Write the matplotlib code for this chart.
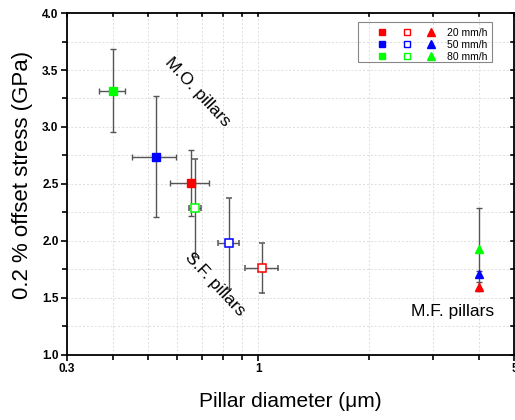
import matplotlib
matplotlib.use("Agg")
import matplotlib.pyplot as plt
from matplotlib.ticker import FixedLocator, NullFormatter, FixedFormatter
from matplotlib.legend_handler import HandlerTuple
from matplotlib.lines import Line2D
from matplotlib.patches import Rectangle

plt.rcParams['font.family'] = ['Liberation Sans', 'DejaVu Sans']

# Strain rates and their colours
rates = ['20 mm/h', '50 mm/h', '80 mm/h']
colors = ['#ff0000', '#0000ff', '#00ff00']

# M.O. pillars (filled squares)
mo_diam = [0.653, 0.524, 0.400]
mo_diam_err = [0.080, 0.072, 0.032]
mo_stress = [2.51, 2.74, 3.32]
mo_stress_err = [0.29, 0.53, 0.36]

# S.F. pillars (open squares)
sf_diam = [1.025, 0.829, 0.670]
sf_diam_err = [0.105, 0.055, 0.025]
sf_stress = [1.76, 1.98, 2.29]
sf_stress_err = [0.22, 0.40, 0.43]

# M.F. pillars (triangles)
mf_diam = [4.0, 4.0, 4.0]
mf_stress = [1.60, 1.71, 1.93]
mf_stress_err = [0.04, 0.03, 0.36]

x_ticks = [0.3, 1, 5]
x_tick_labels = ['0.3', '1', '5']
x_minor = [0.4, 0.5, 0.6, 0.7, 0.8, 0.9, 2, 3, 4]
y_ticks = [1.0, 1.5, 2.0, 2.5, 3.0, 3.5, 4.0]
y_minor = [1.25, 1.75, 2.25, 2.75, 3.25, 3.75]

fig = plt.figure(figsize=(5.15, 4.2), dpi=100)
ax = fig.add_axes([0.130, 0.155, 0.869, 0.814])

ecol = '#555555'
eb_kw = dict(ecolor=ecol, elinewidth=1.0, capsize=2.5, capthick=1.0, linestyle='none', zorder=3)

h_filled, h_open, h_tri = [], [], []
for i, c in enumerate(colors):
    ax.errorbar(mo_diam[i], mo_stress[i], xerr=mo_diam_err[i], yerr=mo_stress_err[i],
                marker='s', ms=5.2, mfc=c, mec=c, **eb_kw)
    ax.errorbar(sf_diam[i], sf_stress[i], xerr=sf_diam_err[i], yerr=sf_stress_err[i],
                marker='s', ms=5.2, mfc='white', mec=c, mew=1.1, **eb_kw)
    ax.errorbar(mf_diam[i], mf_stress[i], yerr=mf_stress_err[i],
                marker='^', ms=6.3, mfc=c, mec=c, **eb_kw)
    h_filled.append(Line2D([], [], marker='s', ms=5, mfc=c, mec=c, ls='none'))
    h_open.append(Line2D([], [], marker='s', ms=5, mfc='white', mec=c, mew=1.0, ls='none'))
    h_tri.append(Line2D([], [], marker='^', ms=6.2, mfc=c, mec=c, ls='none'))

ax.set_xscale('log')
ax.set_xlim(0.3, 5)
ax.set_ylim(1.0, 4.0)

ax.xaxis.set_major_locator(FixedLocator(x_ticks))
ax.xaxis.set_major_formatter(FixedFormatter(x_tick_labels))
ax.xaxis.set_minor_locator(FixedLocator(x_minor))
ax.xaxis.set_minor_formatter(NullFormatter())
ax.set_yticks(y_ticks)
ax.set_yticklabels([f'{v:.1f}' for v in y_ticks])
ax.yaxis.set_minor_locator(FixedLocator(y_minor))

for lab in ax.get_xticklabels() + ax.get_yticklabels():
    lab.set_fontweight('bold')
    lab.set_fontsize(8.5)

ax.tick_params(which='both', direction='out', length=4, width=1.2, top=False, right=False)
ax.tick_params(which='minor', length=3.5)
ax.tick_params(axis='x', which='both', pad=2)
ax.tick_params(axis='y', which='both', pad=2)

# inward ticks mirrored on the top and right edges
for x in x_ticks + x_minor:
    ax.plot([x, x], [4.0, 3.97], color='black', lw=1.2, clip_on=False, zorder=5)
for y in y_ticks + y_minor:
    ax.plot([5, 4.88], [y, y], color='black', lw=1.2, clip_on=False, zorder=5)

for s in ax.spines.values():
    s.set_linewidth(1.3)

ax.grid(True, which='both', color='#dddddd', linestyle=(0, (2, 2)), linewidth=0.7)
ax.set_axisbelow(True)

ax.set_xlabel('Pillar diameter (μm)', fontsize=15, labelpad=12)
ax.set_ylabel('0.2 % offset stress (GPa)', fontsize=16)
ax.yaxis.set_label_coords(-0.076, 0.527)

ax.text(0.683, 3.31, 'M.O. pillars', fontsize=12.5, rotation=-47, ha='center', va='center')
ax.text(0.76, 1.62, 'S.F. pillars', fontsize=12.5, rotation=-47, ha='center', va='center')
ax.text(2.61, 1.38, 'M.F. pillars', fontsize=12.5, ha='left', va='center')

# legend: one row per strain rate, three marker styles side by side
handles = [tuple([h_filled[i], h_open[i], h_tri[i]]) for i in range(3)]
leg = ax.legend(handles, rates, handler_map={tuple: HandlerTuple(ndivide=None, pad=1.5)},
                handlelength=5.6, fontsize=7.5, loc='upper right',
                bbox_to_anchor=(0.961, 0.985), frameon=False,
                borderpad=0.4, labelspacing=0.2, handletextpad=1.1)
ax.add_patch(Rectangle((0.650, 0.857), 0.300, 0.117, transform=ax.transAxes,
                       fill=False, edgecolor='#888888', linewidth=0.8, zorder=6))

fig.savefig('out.png', dpi=100)
